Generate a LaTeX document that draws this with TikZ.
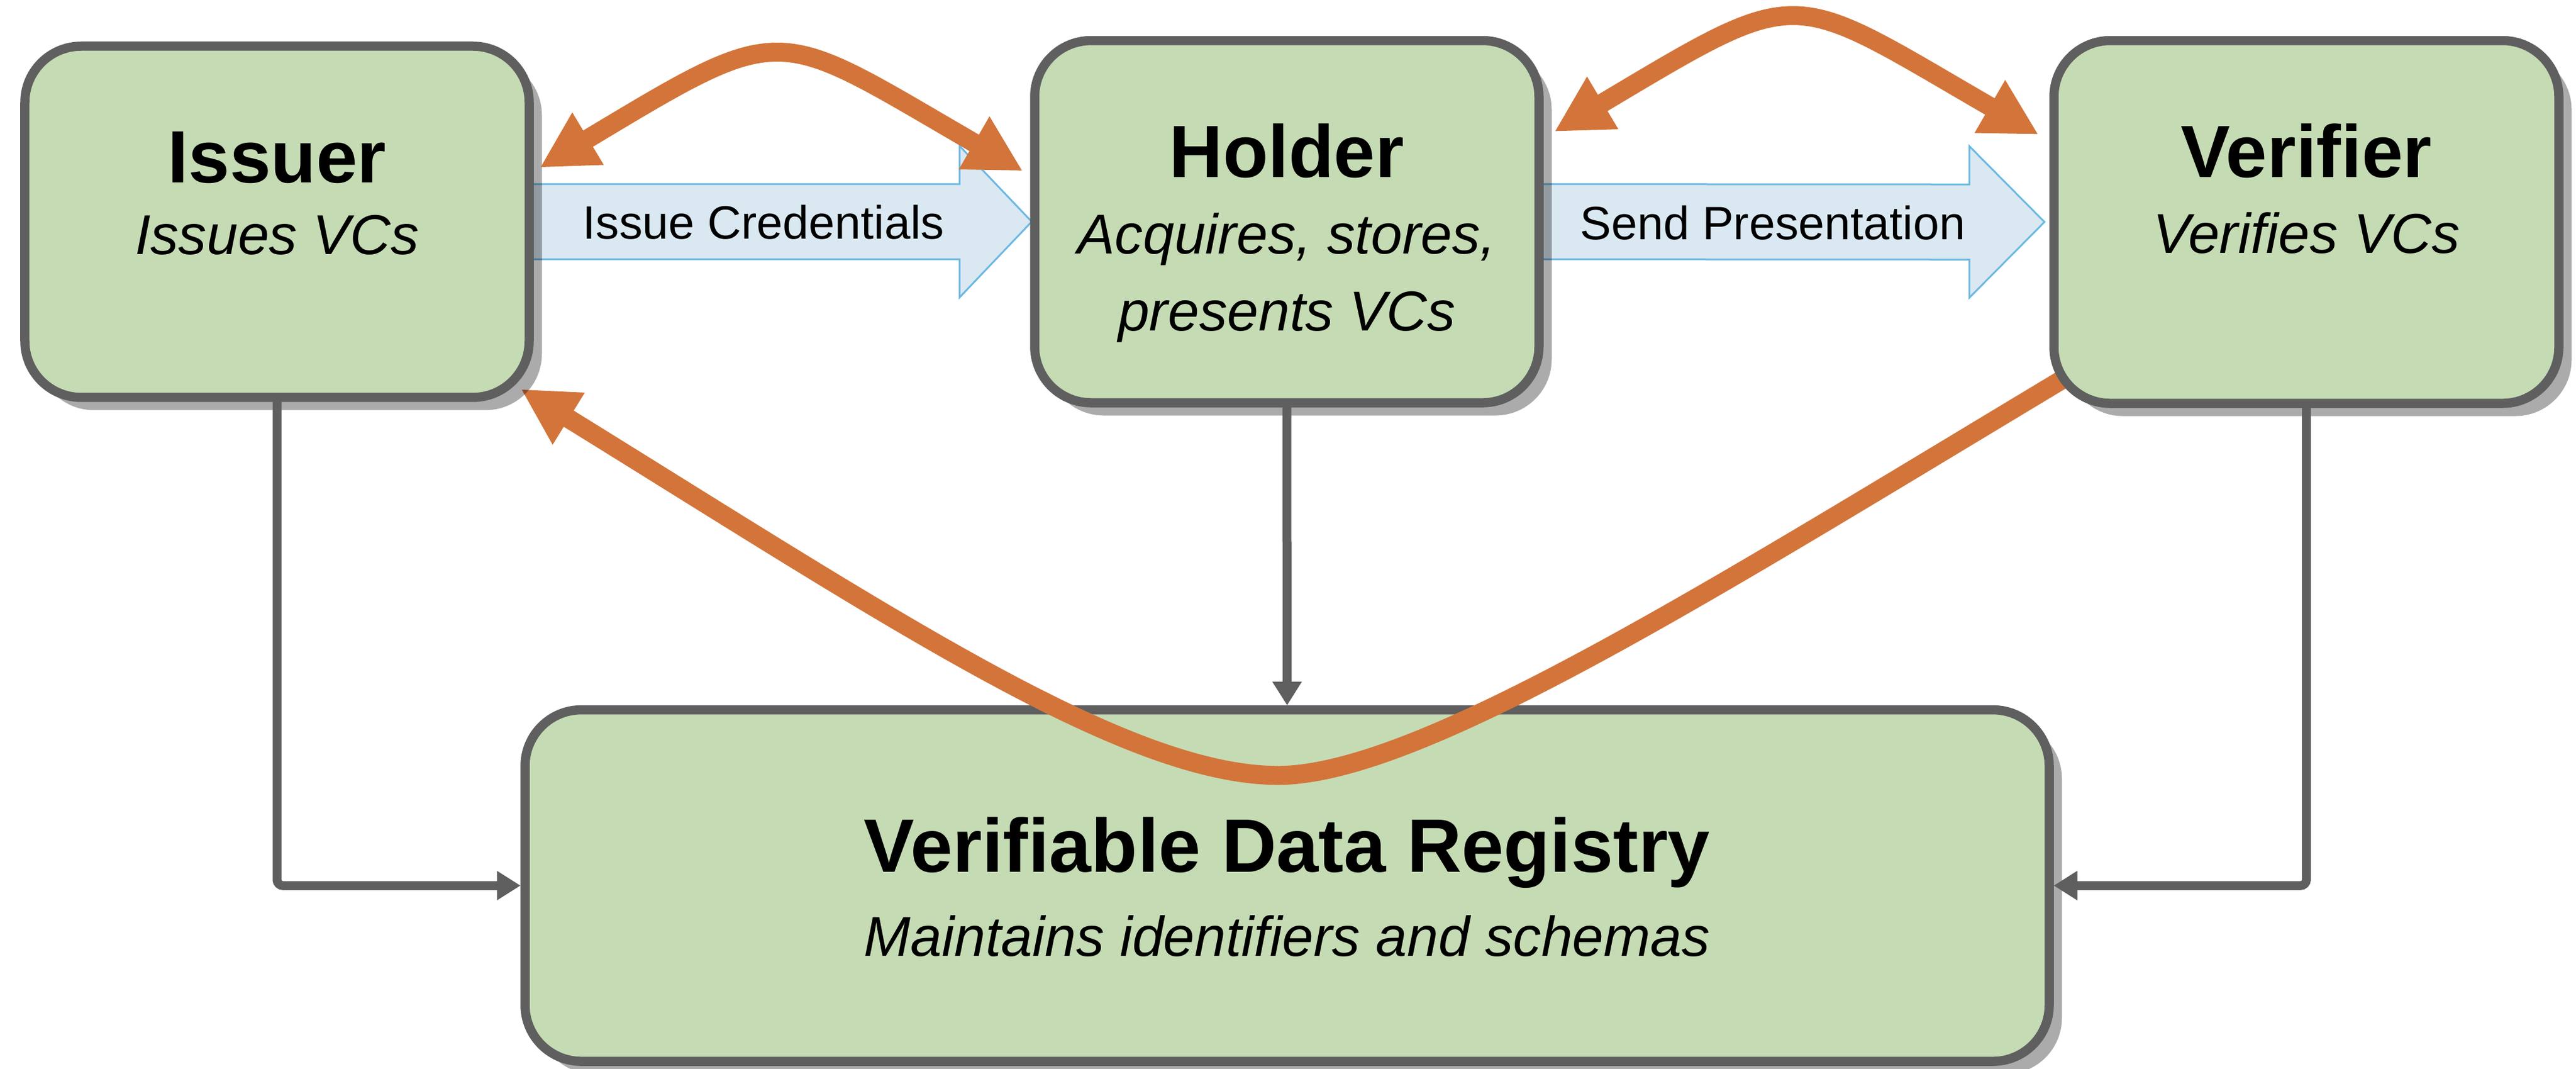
\documentclass[tikz,border=0pt]{standalone}
\usepackage{fontspec}
\setmainfont{Liberation Sans}
\usetikzlibrary{arrows.meta,shadows}
\pgfdeclarelayer{back}
\pgfdeclarelayer{mid}
\pgfsetlayers{back,mid,main}
\definecolor{rolefill}{HTML}{C5DBB4}
\definecolor{roleline}{HTML}{5F5F5F}
\definecolor{flowfill}{HTML}{DAE8F2}
\definecolor{flowline}{HTML}{6CB8E2}
\definecolor{vcorange}{HTML}{D3753A}
\tikzset{
	role/.style={draw=roleline, line width=1.55mm, fill=rolefill, rounded corners=9.5mm, inner sep=0pt, outer sep=0pt,
		drop shadow={shadow xshift=2.15mm, shadow yshift=-2.15mm, fill=black, opacity=0.33}},
	roletitle/.style={anchor=base, inner sep=0pt, font=\fontsize{35.6}{40}\selectfont\bfseries},
	roletext/.style={anchor=base, inner sep=0pt, font=\fontsize{27}{32}\selectfont\itshape},
	flowtext/.style={anchor=base, inner sep=0pt, font=\fontsize{22.5}{27}\selectfont},
	flow/.style={draw=flowline, line width=0.3mm, fill=flowfill},
	link/.style={draw=roleline, line width=1.5mm, rounded corners=1mm, shorten >=0.75mm, -{Triangle[length=4mm,width=4.7mm]}},
	exchange/.style={draw=vcorange, line width=3.2mm, {Triangle[length=9.5mm,width=9.6mm]}-{Triangle[length=9.5mm,width=9.6mm]}},
	lookup/.style={draw=vcorange, line width=3.2mm, -{Triangle[length=9.5mm,width=9.6mm]}}
}

\begin{document}
\begin{tikzpicture}
			%%%%% START %%%%%
			\useasboundingbox (0,0) rectangle (43.52,-18.05);
			
			\node[role, minimum width=85.2mm, minimum height=59.3mm] (issuer) at (4.68,-3.745) {};
			\node[role, minimum width=85.2mm, minimum height=61.15mm] (holder) at (21.74,-3.743) {};
			\node[role, minimum width=85.3mm, minimum height=61.25mm] (verifier) at (38.965,-3.748) {};
			
			\begin{pgfonlayer}{back}
			\node[role, minimum width=257.5mm, minimum height=59.35mm] (vdr) at (21.745,-14.953) {};
			
			\draw[flow] ([xshift=-3mm,yshift=6.35mm]issuer.east) -- ([xshift=-12.7mm,yshift=6.35mm]holder.west)
				-- ([xshift=-12.7mm,yshift=12.8mm]holder.west) -- ([xshift=-0.5mm]holder.west)
				-- ([xshift=-12.7mm,yshift=-12.8mm]holder.west) -- ([xshift=-12.7mm,yshift=-6.35mm]holder.west)
				-- ([xshift=-3mm,yshift=-6.35mm]issuer.east) -- cycle;
			\draw[flow] ([xshift=-3mm,yshift=6.35mm]holder.east) -- ([xshift=-14.3mm,yshift=6.35mm]verifier.west)
				-- ([xshift=-14.3mm,yshift=12.8mm]verifier.west) -- ([xshift=-1.6mm]verifier.west)
				-- ([xshift=-14.3mm,yshift=-12.8mm]verifier.west) -- ([xshift=-14.3mm,yshift=-6.35mm]verifier.west)
				-- ([xshift=-3mm,yshift=-6.35mm]holder.east) -- cycle;
			\end{pgfonlayer}
			
			\coordinate (dip) at ([xshift=-1.55mm,yshift=18.6mm]vdr.center);
			\begin{pgfonlayer}{mid}
			\draw[lookup] ([xshift=3.5mm,yshift=-25.35mm]verifier.west) .. controls (29.00,-9.91) and (24.00,-13.09) .. (dip)
				.. controls (19.00,-13.09) and (15.00,-10.40) .. ([xshift=-1.4mm,yshift=-28.25mm]issuer.east);
			\end{pgfonlayer}
			
			\node[roletitle] (issuerT) at ([yshift=6.55mm]issuer.center) {Issuer};
			\node[roletext] (issuerS) at ([yshift=-5.55mm]issuer.center) {Issues VCs};
			\node[roletitle] (holderT) at ([yshift=7.5mm]holder.center) {Holder};
			\node[roletext] (holderS) at ([yshift=-5.4mm]holder.center) {Acquires, stores,};
			\node[roletext] (holderS2) at ([yshift=-18.4mm]holder.center) {presents VCs};
			\node[roletitle] (verifierT) at ([yshift=7.55mm]verifier.center) {Verifier};
			\node[roletext] (verifierS) at ([yshift=-5.3mm]verifier.center) {Verifies VCs};
			\node[roletitle, font=\fontsize{36.4}{41}\selectfont\bfseries] (vdrT) at ([yshift=2.3mm]vdr.center) {Verifiable Data Registry};
			\node[roletext] (vdrS) at ([yshift=-11.9mm]vdr.center) {Maintains identifiers and schemas};
			
			\node[flowtext] (issueT) at ([xshift=39.6mm,yshift=-2.95mm]issuer.east) {Issue Credentials};
			\node[flowtext] (sendT) at ([xshift=39.5mm,yshift=-3mm]holder.east) {Send Presentation};
			
			\draw[link] (issuer.south) |- (vdr.west);
			\draw[link] (holder.south) -- (vdr.north);
			\draw[link] (verifier.south) |- (vdr.east);
			
			\draw[exchange] ([xshift=1.8mm,yshift=9.15mm]issuer.east) .. controls (13.32,-0.31) and (13.04,-0.435) .. ([xshift=-2mm,yshift=8.55mm]holder.west);
			\draw[exchange] ([xshift=2.6mm,yshift=15.2mm]holder.east) .. controls (30.50,0.30) and (30.17,0.195) .. ([xshift=-2.6mm,yshift=14.75mm]verifier.west);
			
			%%%%% END %%%%%
\end{tikzpicture}
\end{document}
